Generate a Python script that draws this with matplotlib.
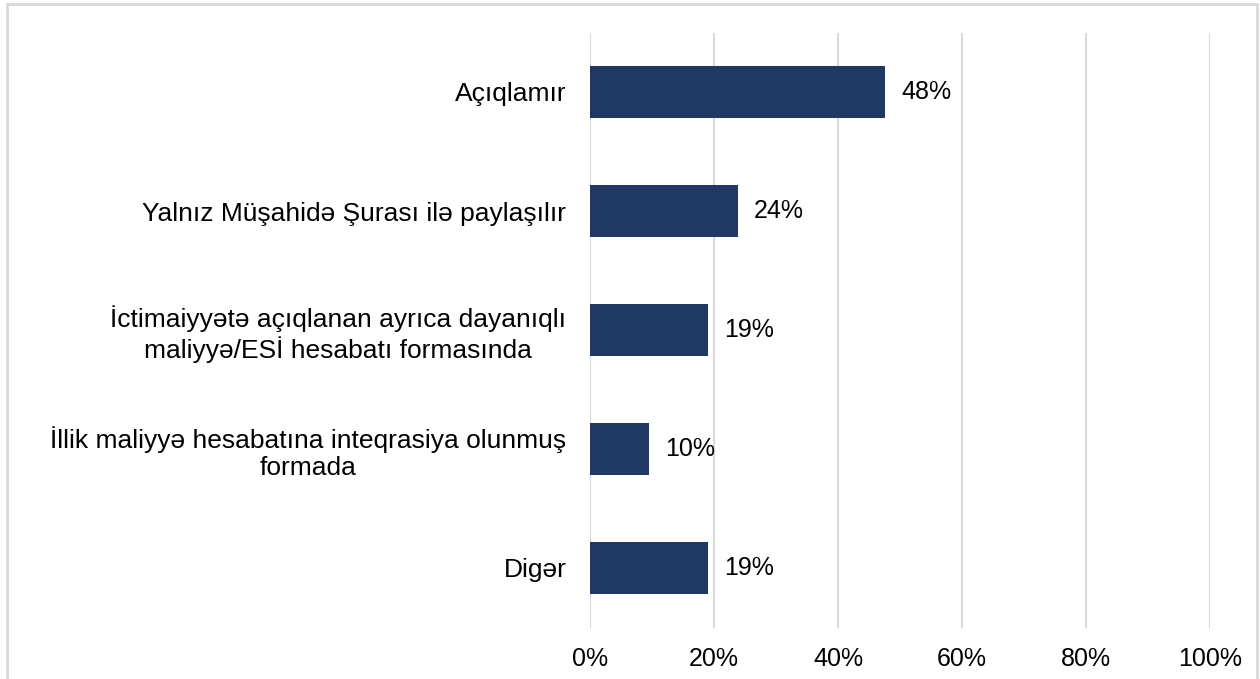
import matplotlib.pyplot as plt
from matplotlib.patches import Rectangle

plt.rcParams['font.family'] = ['Liberation Sans', 'DejaVu Sans']

categories = ['Açıqlamır',
              'Yalnız Müşahidə Şurası ilə paylaşılır',
              'İctimaiyyətə açıqlanan ayrıca dayanıqlı\nmaliyyə/ESİ hesabatı formasında',
              'İllik maliyyə hesabatına inteqrasiya olunmuş\nformada',
              'Digər']
values = [47.6, 23.8, 19.0, 9.5, 19.0]
value_labels = ['48%', '24%', '19%', '10%', '19%']
ticks = [0, 20, 40, 60, 80, 100]
tick_labels = ['0%', '20%', '40%', '60%', '80%', '100%']

bar_color = '#203864'
grid_color = '#d9d9d9'

fig = plt.figure(figsize=(12.6, 6.79), dpi=100)
ax = fig.add_axes([590 / 1260, 1 - 627.5 / 679, 620 / 1260, 595 / 679])

ypos = list(range(len(categories)))
ax.barh(ypos, values, height=0.44, color=bar_color, zorder=3)
for y, v, lab in zip(ypos, values, value_labels):
    ax.annotate(lab, (v, y), xytext=(12, 0), textcoords='offset points',
                va='center', ha='left', fontsize=18)

ax.set_xlim(0, 100)
ax.set_ylim(len(categories) - 0.5, -0.5)
ax.set_xticks(ticks)
ax.set_xticklabels(tick_labels, fontsize=18)
ax.set_yticks(ypos)
ax.set_yticklabels(categories, fontsize=19, multialignment='center',
                   linespacing=1.18)
ax.tick_params(axis='both', length=0)
ax.tick_params(axis='x', pad=14)
ax.tick_params(axis='y', pad=17)
ax.grid(axis='x', color=grid_color, linewidth=1.5, zorder=0)
for s in ax.spines.values():
    s.set_visible(False)

# outer chart border
fig.patches.append(Rectangle((7 / 1260, -0.05), 1250 / 1260, 1.05 - 4 / 679,
                             transform=fig.transFigure, fill=False,
                             edgecolor=grid_color, linewidth=2))

fig.savefig('out.png', dpi=100)
